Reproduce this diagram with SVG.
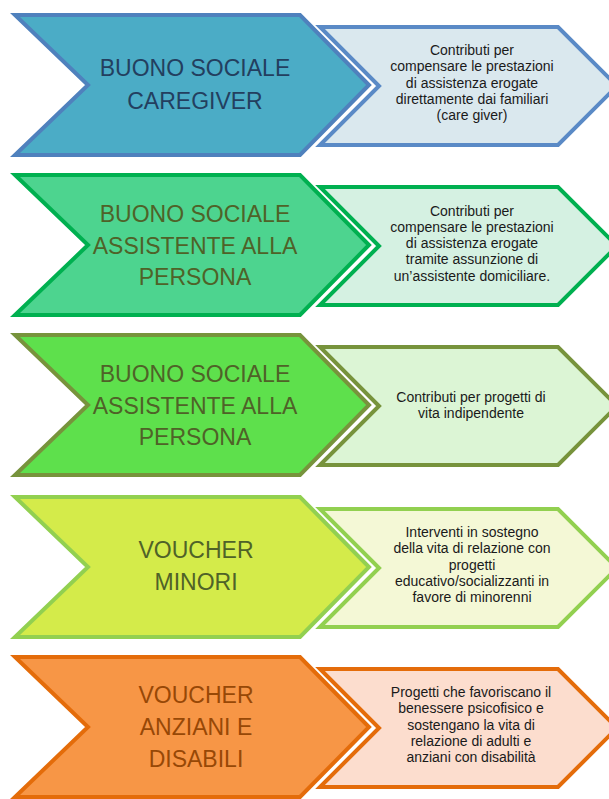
<svg xmlns="http://www.w3.org/2000/svg" width="609" height="799" viewBox="0 0 609 799">
<style>
.big{font-family:"Liberation Sans",Arial,sans-serif;font-size:23px;text-anchor:middle}
.small{font-family:"Liberation Sans",Arial,sans-serif;font-size:14px;text-anchor:middle;fill:#1a1a1a}
.sh{stroke-width:4;stroke-linejoin:miter}
</style>
<rect width="609" height="799" fill="#ffffff"/>
<g id="row1-main">
<polygon class="sh" points="15,15 300,15 369,85 300,155 15,155 88,85" fill="#4BACC6" stroke="#4F81BD"/>
<text class="big" fill="#233F5F"><tspan x="195" y="76">BUONO SOCIALE</tspan><tspan x="195" y="109">CAREGIVER</tspan></text>
</g>
<g id="row1-desc">
<polygon class="sh" points="320,27 558,27 617,86 558,145 320,145 379,86" fill="#DAE8EE" stroke="#5A8AC6"/>
<text class="small"><tspan x="472" y="55">Contributi per</tspan><tspan x="472" y="71.3">compensare le prestazioni</tspan><tspan x="472" y="87.6">di assistenza erogate</tspan><tspan x="472" y="103.9">direttamente dai familiari</tspan><tspan x="472" y="120.2">(care giver)</tspan></text>
</g>
<g id="row2-main">
<polygon class="sh" points="15,175 300,175 369,245 300,315 15,315 88,245" fill="#4DD48F" stroke="#00B050"/>
<text class="big" fill="#4F6228"><tspan x="195" y="222">BUONO SOCIALE</tspan><tspan x="195" y="253.5">ASSISTENTE ALLA</tspan><tspan x="195" y="285">PERSONA</tspan></text>
</g>
<g id="row2-desc">
<polygon class="sh" points="320,187 558,187 617,246 558,305 320,305 379,246" fill="#D5F1E2" stroke="#00B050"/>
<text class="small"><tspan x="472" y="215.5">Contributi per</tspan><tspan x="472" y="231.8">compensare le prestazioni</tspan><tspan x="472" y="248.1">di assistenza erogate</tspan><tspan x="472" y="264.4">tramite assunzione di</tspan><tspan x="472" y="280.7">un’assistente domiciliare.</tspan></text>
</g>
<g id="row3-main">
<polygon class="sh" points="15,335 300,335 369,405 300,475 15,475 88,405" fill="#5EE04C" stroke="#77933C"/>
<text class="big" fill="#4F6228"><tspan x="195" y="382">BUONO SOCIALE</tspan><tspan x="195" y="413.5">ASSISTENTE ALLA</tspan><tspan x="195" y="445">PERSONA</tspan></text>
</g>
<g id="row3-desc">
<polygon class="sh" points="320,347 558,347 617,406 558,465 320,465 379,406" fill="#DCF5D5" stroke="#77933C"/>
<text class="small"><tspan x="471" y="401.5">Contributi per progetti di</tspan><tspan x="471" y="418">vita indipendente</tspan></text>
</g>
<g id="row4-main">
<polygon class="sh" points="15,497 300,497 369,567 300,637 15,637 88,567" fill="#D4EB4A" stroke="#92D050"/>
<text class="big" fill="#4F6228"><tspan x="196" y="558">VOUCHER</tspan><tspan x="196" y="590">MINORI</tspan></text>
</g>
<g id="row4-desc">
<polygon class="sh" points="320,509 558,509 617,568 558,627 320,627 379,568" fill="#F4F8D6" stroke="#92D050"/>
<text class="small"><tspan x="472" y="537">Interventi in sostegno</tspan><tspan x="472" y="553.3">della vita di relazione con</tspan><tspan x="472" y="569.6">progetti</tspan><tspan x="472" y="585.9">educativo/socializzanti in</tspan><tspan x="472" y="602.2">favore di minorenni</tspan></text>
</g>
<g id="row5-main">
<polygon class="sh" points="15,657 300,657 369,727 300,797 15,797 88,727" fill="#F79646" stroke="#E46C0A"/>
<text class="big" fill="#974806"><tspan x="196" y="703">VOUCHER</tspan><tspan x="196" y="735">ANZIANI E</tspan><tspan x="196" y="767">DISABILI</tspan></text>
</g>
<g id="row5-desc">
<polygon class="sh" points="320,669 558,669 617,728 558,787 320,787 379,728" fill="#FCDDCE" stroke="#E46C0A"/>
<text class="small"><tspan x="471" y="697">Progetti che favoriscano il</tspan><tspan x="471" y="713.3">benessere psicofisico e</tspan><tspan x="471" y="729.6">sostengano la vita di</tspan><tspan x="471" y="745.9">relazione di adulti e</tspan><tspan x="471" y="762.2">anziani con disabilità</tspan></text>
</g>
</svg>
